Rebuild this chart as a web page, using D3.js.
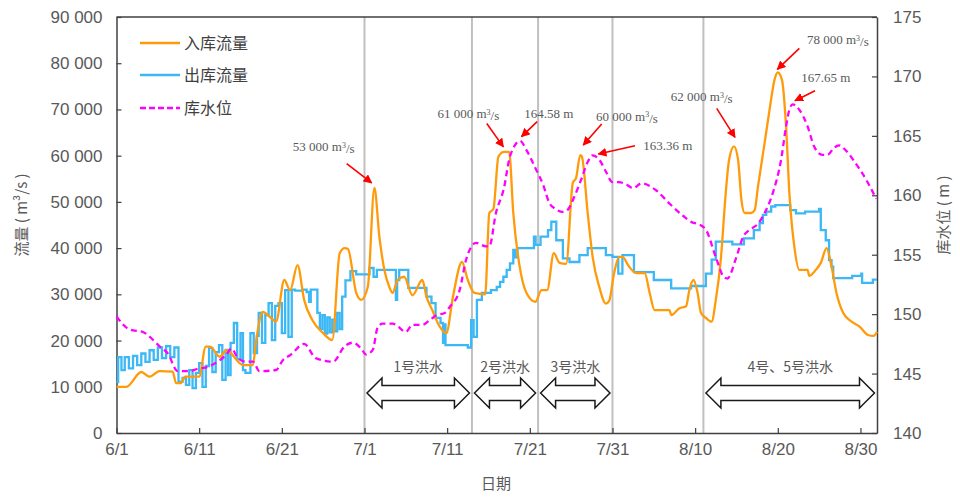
<!DOCTYPE html>
<html><head><meta charset="utf-8">
<script src="https://cdn.jsdelivr.net/npm/d3@7/dist/d3.min.js"></script>
<style>
html,body{margin:0;padding:0;background:#fff;}
svg{display:block;}
.tick text{fill:#595959;}
</style></head>
<body><svg id="c" width="960" height="497"></svg>
<script>
// ---- data (day index from 6/1) ----
const xTickDays = [0,10,20,30,40,50,60,70,80,90];
const xTickLabels = ["6/1","6/11","6/21","7/1","7/11","7/21","7/31","8/10","8/20","8/30"];
const leftTicks = [0,10000,20000,30000,40000,50000,60000,70000,80000,90000];
const rightTicks = [140,145,150,155,160,165,170,175];
const seriesNames = ["入库流量","出库流量","库水位"];

const inflow = [[0,10000],[1.2,10000],[3,13200],[4,12200],[5.2,13400],[6.8,13300],[7.2,10800],[7.8,10800],[8.3,12200],[10,12200],[10.8,18700],[11.3,18700],[12.5,16500],[13.3,17900],[15.3,14700],[16.5,14700],[16.9,20100],[17.7,26200],[18.5,25200],[19.3,24100],[20.3,33100],[21,30900],[21.9,36300],[22.7,28800],[23.7,24400],[25,21600],[26.1,20100],[27,38900],[27.6,40000],[28,39800],[29,30300],[29.6,28800],[30.4,31600],[31.2,53000],[31.8,42500],[32.4,35300],[33,31600],[33.4,30300],[34,33100],[34.8,33800],[35.8,29800],[37,33100],[37.5,29500],[38.2,26600],[39.1,23000],[39.9,21600],[40.7,29500],[41.8,37000],[42.5,33100],[43.3,30300],[44.6,30000],[45.1,47600],[45.6,48500],[46.2,59800],[46.9,60800],[47.5,60800],[48,47600],[48.7,36800],[49.6,30300],[50.7,28400],[51.4,30900],[52.1,30900],[52.9,38900],[53.6,36800],[54.4,36600],[55.2,54100],[55.6,55200],[56.1,60100],[56.3,59800],[57,47600],[57.6,38100],[58.4,31600],[59.2,28000],[59.6,28600],[60.2,34600],[60.8,38100],[61.2,38100],[62,36000],[62.9,34600],[63.9,34600],[64.5,30300],[65.1,26600],[66.9,26600],[67.1,25500],[68.1,27000],[68.9,27400],[69.3,30900],[69.8,33100],[70.3,30300],[70.7,26000],[71.3,24900],[72,24100],[72.5,28800],[73.1,37400],[73.7,51900],[74.1,59000],[74.7,62000],[75.2,59000],[75.6,50400],[76,47600],[76.8,47600],[77.2,48200],[77.6,53300],[78.4,62700],[79,69900],[79.6,76400],[80,78000],[80.5,76400],[81,66300],[81.4,51900],[82,40300],[82.6,35300],[83.6,35300],[83.8,34000],[84.6,35300],[85.2,36800],[85.9,40000],[86.5,36000],[87.1,30300],[87.9,26000],[88.7,24400],[89.9,23000],[90.9,21200],[91.6,21000],[92,21900]];

const outflow = [[0,11000],[0.2,16400],[0.6,13600],[1.0,16400],[1.5,14000],[2.0,16700],[2.5,14700],[3.0,17200],[3.5,15400],[4.0,17900],[4.5,15800],[5.0,18500],[5.5,16200],[6.0,18800],[6.5,16400],[7.0,18500],[7.5,11100],[8.0,11900],[8.4,10400],[8.8,13600],[9.2,9700],[9.6,13000],[10.0,15100],[10.4,10000],[10.8,14500],[11.2,18400],[11.6,13200],[12.0,17500],[12.4,19000],[12.8,11500],[13.2,18000],[13.5,12500],[13.8,19500],[14.2,23800],[14.6,16000],[15.0,21600],[15.3,13600],[15.6,13000],[16.2,21600],[16.6,17300],[17.0,21000],[17.2,26000],[17.6,19500],[18.0,25500],[18.4,28100],[18.8,20100],[19.2,27500],[19.6,28100],[20.0,21600],[20.4,30900],[20.8,20800],[21.2,31000],[21.6,30800],[22.5,31000],[23.0,30500],[23.3,28400],[23.5,31000],[24.2,31000],[24.3,26000],[24.6,22500],[24.9,25500],[25.2,21500],[25.5,25000],[25.8,21800],[26.1,24500],[26.4,22000],[26.7,26000],[27.0,22500],[27.3,29500],[27.7,33000],[28.3,35000],[29.0,34300],[30.6,35700],[31.1,33800],[31.5,35300],[33.8,28800],[33.95,33100],[34.2,35300],[35.3,31400],[37.5,29500],[38.1,28100],[38.6,24900],[39.2,23800],[39.5,19500],[39.65,23500],[39.8,19000],[42.5,18500],[42.9,24400],[43.2,20800],[43.6,28800],[44.2,30300],[45.3,30900],[46.0,31600],[46.4,32700],[46.8,33800],[47.2,35300],[47.6,36700],[48.0,39600],[48.2,38000],[48.5,40000],[50.5,42500],[50.7,40700],[51.3,42500],[52.2,43900],[52.6,45700],[53.2,41700],[54.0,37800],[54.8,37000],[56.0,38500],[57.0,40000],[59.2,38500],[60.0,38100],[60.7,34500],[61.2,38500],[62.6,34800],[65.0,33100],[67.1,31300],[69.5,31800],[71.3,34500],[72.0,37500],[72.5,41400],[74.5,40800],[75.9,42100],[77.1,43900],[77.8,45400],[78.2,47200],[78.6,47900],[79.2,49000],[79.7,49300],[81.5,48200],[82.2,47500],[83.3,47900],[85.0,48500],[85.2,43900],[85.8,41700],[86.2,37400],[86.5,36000],[86.7,33500],[89.0,34000],[90.1,34500],[90.2,32500],[91.5,33200],[92,33200]];

const level = [[0,149.8],[1.6,148.7],[3.2,148.5],[4,148.1],[5.2,147.3],[6.2,146.7],[7.4,145.2],[8.8,145.2],[9.8,145.4],[11.2,145.6],[12,145.9],[13.3,146.6],[13.9,147.1],[14.7,146.3],[15.7,146.0],[16.5,146.0],[17.3,145.2],[19.3,145.3],[20.1,146.1],[21.1,146.6],[22.7,147.5],[24.1,146.3],[26.2,146.0],[27.6,147.3],[28.6,147.6],[29.6,147.1],[30.2,146.6],[31,147.0],[31.6,148.9],[32.2,149.2],[33.4,149.2],[33.8,149.1],[35,148.5],[35.8,149.1],[37,149.1],[37.9,149.5],[38.7,149.9],[39.7,150.1],[40.3,150.6],[41.5,152.0],[42.3,154.6],[43.5,156.0],[44.7,155.7],[45.1,155.7],[45.9,158.5],[46.9,160.7],[47.5,163.0],[48.1,164.1],[48.8,164.58],[49.6,163.8],[50.6,162.4],[51.6,160.9],[52.4,159.3],[53,158.9],[54,158.6],[54.6,158.8],[55.4,159.9],[56.2,161.3],[57,162.8],[57.6,163.36],[58.4,163.0],[59.2,162.0],[60,161.1],[60.8,161.1],[61.7,160.9],[62.5,160.6],[63.5,161.0],[65.3,160.4],[66.9,159.3],[68.5,158.3],[69.7,157.7],[70.3,157.6],[71.3,157.1],[72.5,154.8],[73.5,153.1],[73.9,153.0],[74.9,154.6],[75.8,156.5],[76.6,157.1],[77.6,157.6],[78.4,158.5],[79.4,160.2],[80.4,163.0],[81,165.8],[81.4,167.2],[81.8,167.65],[82.6,167.2],[83.6,165.8],[84.4,164.1],[85.4,163.4],[86,163.4],[86.8,164.0],[87.4,164.2],[88.2,163.8],[89.4,162.7],[90.7,161.3],[91.9,159.7]];

const dividerDays = [30,43,51,60,71];
const floodLabels = ["1号洪水","2号洪水","3号洪水","4号、5号洪水"];
const floodStart = [30,43,51,71];
const floodEnd = [43,51,60,92];

// annotations: anchor [day,value], axis, label, superscript
const annoText = ["53 000 m","61 000 m","164.58 m","60 000 m","163.36 m","62 000 m","78 000 m","167.65 m"];
const annoSup = [true,true,false,true,false,true,true,false];
const annoDay = [30.87,46.8,49.0,56.47,58.29,74.82,79.94,82.08];
const annoVal = [54100,61900,164.93,62300,163.47,63960,78670,167.96];
const annoAxis = ["L","L","R","L","R","L","L","R"];
const annoTail = [[-25,-19.4],[-16.6,-23.4],[15.6,-15],[18.4,-21],[36.7,-8.3],[-18.3,-29],[22,-21],[20,-10]];
const annoLabel = [[-48,-36,"middle"],[-35,-33.4,"middle"],[27.3,-23.7,"middle"],[43.7,-29,"middle"],[45,-8.3,"start"],[-33.3,-40.6,"middle"],[60.5,-30,"middle"],[30.7,-23.4,"middle"]];

// ---- layout ----
const svg = d3.select("#c");
const L = 116.5, R = 877, T = 17, B = 433;
const x = d3.scaleLinear().domain([0,92]).range([L,R]);
const yL = d3.scaleLinear().domain([0,90000]).range([B,T]);
const yR = d3.scaleLinear().domain([140,175]).range([B,T]);

const tickFont = "'Liberation Sans Narrow','Arial Narrow','Liberation Sans',sans-serif";
const cjk = "'Noto Sans CJK SC','Noto Sans',sans-serif";
const serif = "'Liberation Serif','Times New Roman',serif";
const fmt = d => d3.format(",")(d).replace(/,/g," ");

// divider lines
svg.append("g").selectAll("line").data(dividerDays).join("line")
  .attr("x1",d=>x(d)).attr("x2",d=>x(d)).attr("y1",T).attr("y2",B)
  .attr("stroke","#c0c0c0").attr("stroke-width",2);

// axes
const ax = (g)=>{g.selectAll("path.domain").attr("stroke","#404040").attr("stroke-width",1.5);
  g.selectAll(".tick line").attr("stroke","#404040").attr("stroke-width",1.2);
  g.selectAll(".tick text").attr("fill","#595959").style("font-family",tickFont).style("font-size","17px");};
svg.append("g").attr("transform",`translate(${L},0)`)
  .call(d3.axisLeft(yL).tickValues(leftTicks).tickFormat(fmt).tickSizeInner(-5).tickSizeOuter(0).tickPadding(14)).call(ax);
svg.append("g").attr("transform",`translate(${R},0)`)
  .call(d3.axisRight(yR).tickValues(rightTicks).tickFormat(d3.format("d")).tickSizeInner(-5).tickSizeOuter(0).tickPadding(16)).call(ax);
svg.append("g").attr("transform",`translate(0,${B})`)
  .call(d3.axisBottom(x).tickValues(xTickDays).tickFormat((d,i)=>xTickLabels[i]).tickSizeInner(-5).tickSizeOuter(0).tickPadding(10)).call(ax);
svg.append("line").attr("x1",L).attr("x2",R).attr("y1",T).attr("y2",T).attr("stroke","#404040").attr("stroke-width",1.5);

// series
const lineIn = d3.line().x(d=>x(d[0])).y(d=>yL(d[1])).curve(d3.curveMonotoneX);
const lineOut = d3.line().x(d=>x(d[0])).y(d=>yL(d[1])).curve(d3.curveStepAfter);
const lineLv = d3.line().x(d=>x(d[0])).y(d=>yR(d[1])).curve(d3.curveMonotoneX);
const colIn = "#ff9b0a", colOut = "#3bb8f5", colLv = "#ff00ff";
svg.append("path").datum(outflow).attr("d",lineOut).attr("fill","none").attr("stroke",colOut).attr("stroke-width",2.3);
svg.append("path").datum(inflow).attr("d",lineIn).attr("fill","none").attr("stroke",colIn).attr("stroke-width",2.3);
svg.append("path").datum(level).attr("d",lineLv).attr("fill","none").attr("stroke",colLv).attr("stroke-width",2.3).attr("stroke-dasharray","6,4");

// legend
const legCols = [colIn,colOut,colLv];
const legY = [43,75,108];
const lg = svg.append("g");
seriesNames.forEach((n,i)=>{
  lg.append("line").attr("x1",140).attr("x2",180).attr("y1",legY[i]).attr("y2",legY[i])
    .attr("stroke",legCols[i]).attr("stroke-width",2.5).attr("stroke-dasharray",i==2?"6,3":null);
  lg.append("text").attr("x",184).attr("y",legY[i]).attr("dy","0.35em").text(n)
    .style("font-family",cjk).style("font-size","16px").attr("fill","#404040");
});

// flood arrows
const cy = 393, hh = 15, sh = 7.5, hl = 15;
floodLabels.forEach((t,i)=>{
  const x1 = x(floodStart[i])+2.5, x2 = x(floodEnd[i])-2.5;
  const pts = [[x1,cy],[x1+hl,cy-hh],[x1+hl,cy-sh],[x2-hl,cy-sh],[x2-hl,cy-hh],[x2,cy],[x2-hl,cy+hh],[x2-hl,cy+sh],[x1+hl,cy+sh],[x1+hl,cy+hh]];
  svg.append("polygon").attr("points",pts.map(p=>p.join(",")).join(" "))
    .attr("fill","#fff").attr("stroke","#1a1a1a").attr("stroke-width",1.5);
  svg.append("text").attr("x",(x1+x2)/2).attr("y",367).attr("dy","0.35em").attr("text-anchor","middle")
    .text(t).style("font-family",cjk).style("font-size","14px").attr("fill","#595959");
});

// annotation arrows
const defs = svg.append("defs");
defs.append("marker").attr("id","ah").attr("viewBox","0 0 10 10").attr("refX",9).attr("refY",5)
  .attr("markerWidth",9).attr("markerHeight",9).attr("markerUnits","userSpaceOnUse").attr("orient","auto")
  .append("path").attr("d","M0,0L10,5L0,10z").attr("fill","#ff0000");
annoText.forEach((t,i)=>{
  const tx = x(annoDay[i]);
  const ty = annoAxis[i]==="L" ? yL(annoVal[i]) : yR(annoVal[i]);
  svg.append("line").attr("x1",tx+annoTail[i][0]).attr("y1",ty+annoTail[i][1]).attr("x2",tx).attr("y2",ty)
    .attr("stroke","#ff0000").attr("stroke-width",1.6).attr("marker-end","url(#ah)");
  const te = svg.append("text").attr("x",tx+annoLabel[i][0]).attr("y",ty+annoLabel[i][1]).attr("dy","0.35em")
    .attr("text-anchor",annoLabel[i][2]).style("font-family",serif).style("font-size","13px").attr("fill","#595959");
  te.append("tspan").text(t);
  if(annoSup[i]){
    te.append("tspan").attr("dy","-0.4em").style("font-size","8px").text("3");
    te.append("tspan").attr("dy","0.4em").text("/s");
  }
});

// axis titles
svg.append("text").attr("transform","translate(22,215) rotate(-90)").attr("text-anchor","middle").attr("dy","0.35em")
  .style("font-family",cjk).style("font-size","15px").attr("fill","#595959").text("流量 ( m³/s )");
svg.append("text").attr("transform","translate(944,215) rotate(-90)").attr("text-anchor","middle").attr("dy","0.35em")
  .style("font-family",cjk).style("font-size","15px").attr("fill","#595959").text("库水位 ( m )");
svg.append("text").attr("x",496).attr("y",484).attr("text-anchor","middle").attr("dy","0.35em")
  .style("font-family",cjk).style("font-size","15px").attr("fill","#595959").text("日期");
</script></body></html>
